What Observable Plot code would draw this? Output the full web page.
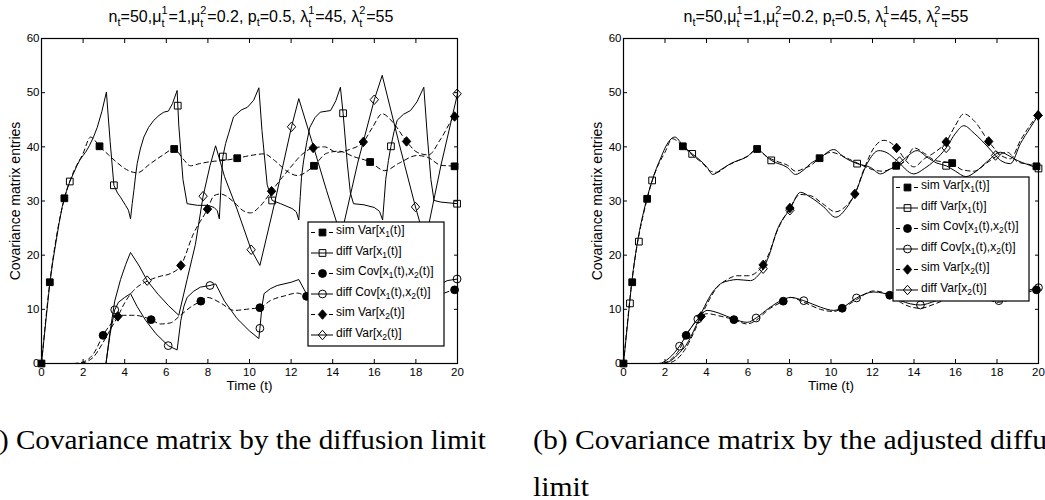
<!DOCTYPE html>
<html><head><meta charset="utf-8">
<script src="https://cdn.jsdelivr.net/npm/d3@7"></script>
<script src="https://cdn.jsdelivr.net/npm/@observablehq/plot@0.6"></script>
<style>
html,body{margin:0;padding:0;background:#fff;overflow:hidden;}
#page{position:relative;width:1045px;height:500px;overflow:hidden;font-family:"Liberation Sans",Arial,sans-serif;color:#000;}
.t{position:absolute;top:6px;font-size:16px;white-space:nowrap;transform:translateX(-50%);line-height:18px;}
.sb{font-size:11px;vertical-align:-4px;}
.ss{display:inline-block;position:relative;width:7px;height:16px;}
.ss .u{position:absolute;left:0;top:-1px;font-size:11px;line-height:11px;}
.ss .d{position:absolute;left:0;top:12px;font-size:11px;line-height:11px;}
.cap{position:absolute;font-family:"Liberation Serif","Times New Roman",serif;font-size:27px;white-space:nowrap;line-height:27px;}
svg{display:block;}
</style></head><body><div id="page"></div>
<script>
// ---------- shared ticks / labels ----------
const xTicks = [0, 2, 4, 6, 8, 10, 12, 14, 16, 18, 20];
const yTicks = [0, 10, 20, 30, 40, 50, 60];
const legendLabels = ["sim Var[x_1(t)]", "diff Var[x_1(t)]", "sim Cov[x_1(t),x_2(t)]",
                      "diff Cov[x_1(t),x_2(t)]", "sim Var[x_2(t)]", "diff Var[x_2(t)]"];
const xLabel = "Time (t)";
const yLabel = "Covariance matrix entries";
const captionA = "(a) Covariance matrix by the diffusion limit";
const captionB1 = "(b) Covariance matrix by the adjusted diffusion";
const captionB2 = "limit";

// ---------- panel (a): diffusion limit  [t, value] ----------
const aSimVar1 = [[0,0],[0.4,15],[0.7,23],[1.1,30.5],[1.5,35],[2.0,38.8],[2.36,41.8],[2.79,40.1],[3.2,38.6],[3.6,37.2],[4.0,36],[4.6,35.2],[5.2,36.8],[5.8,38.4],[6.38,39.6],[6.8,37.8],[7.16,36.5],[7.6,36.9],[8.2,37.3],[8.8,37.5],[9.41,37.9],[10.05,38.4],[10.7,38.7],[11.2,37.5],[11.8,35.5],[12.3,34.7],[13.1,36.5],[13.7,38.8],[14.3,39.2],[15.0,38.2],[15.8,37.2],[16.5,35.6],[17.2,37],[18.06,38.4],[18.6,38],[19.2,36.6],[19.86,36.4],[20,36.3]];
const aDiffVar1 = [[0,0],[0.2,7.5],[0.4,14.8],[0.55,19],[0.7,22.5],[0.85,26],[1.0,29],[1.2,31.8],[1.36,33.6],[1.55,35.2],[1.7,36.5],[1.85,37.6],[2.0,38.4],[2.15,39.2],[2.3,40.2],[2.5,41.8],[2.68,43.6],[2.9,46.5],[3.12,50.1],[3.3,41],[3.48,32.9],[3.65,31.5],[3.8,30.7],[4.04,29.2],[4.18,28.3],[4.28,26.7],[4.36,29.5],[4.44,31.9],[4.52,34.6],[4.6,36.9],[4.75,39.6],[4.92,41.8],[5.15,43.6],[5.4,44.9],[5.65,45.8],[5.88,46.4],[6.1,46.6],[6.3,48],[6.52,50.4],[6.6,44],[6.8,34],[7.0,29.5],[7.5,29.2],[8.0,29.2],[8.3,28.8],[8.45,28.2],[8.55,26.7],[8.63,33],[8.72,38.2],[8.85,40.6],[9.0,42.5],[9.23,45.5],[9.6,46.8],[9.9,47.3],[10.2,48.6],[10.45,50.9],[10.6,43],[10.85,33],[11.09,30.1],[11.5,29.5],[12.05,28.6],[12.25,28],[12.37,26.5],[12.44,30.8],[12.5,34.4],[12.6,37.4],[12.75,40.8],[12.9,43.6],[13.15,45.4],[13.4,46.4],[13.9,46.7],[14.15,48.5],[14.37,51.0],[14.5,46.2],[14.7,37],[14.85,31.5],[15.0,29.5],[15.5,29.3],[16.0,28.8],[16.25,28.1],[16.4,26.5],[16.48,30.5],[16.55,34],[16.68,37.5],[16.8,40.1],[16.95,42.8],[17.1,44.9],[17.4,46],[17.74,46.7],[18.05,48.3],[18.38,51.0],[18.55,42],[18.72,34],[18.87,30.1],[19.2,29.8],[20,29.5]];
const aSimCov = [[0,0],[1.5,0],[2.0,0.3],[2.5,1.8],[2.96,5.2],[3.4,7.6],[3.8,8.9],[4.44,8.9],[5.27,8.1],[5.72,7.3],[6.2,7.5],[6.68,8.9],[7.2,10.5],[7.66,11.5],[7.97,12.2],[8.6,11.2],[9.25,9.8],[10.05,10.1],[10.5,10.3],[11.0,11.6],[11.7,12.5],[12.3,13.0],[12.74,12.4],[13.5,12],[14.5,11.5],[15.5,12.5],[16.5,13.5],[17.5,12.5],[18.5,12],[19.2,12.8],[19.86,13.6],[20,13.7]];
const aDiffCov = [[0,0],[3.1,0],[3.3,5.5],[3.52,9.9],[3.7,11.3],[4.0,12.2],[4.28,12.9],[4.6,10.5],[5.0,8],[5.5,5.5],[6.09,3.3],[6.52,2.5],[6.7,8],[6.85,10.6],[7.0,12.2],[7.3,13.3],[7.64,14.1],[8.1,14.4],[8.37,14.7],[8.8,11.5],[9.4,8.3],[10.0,6],[10.45,4.6],[10.5,6.5],[10.6,10.5],[10.7,12.9],[11.0,13.8],[11.33,14.4],[12.0,15.0],[12.37,15.5],[13.0,11],[14.4,5],[14.6,12],[16.38,15.5],[17.0,11],[18.4,5],[18.6,12],[19.0,14.2],[19.5,15.3],[20,15.6]];
const aSimVar2 = [[0,0],[1.8,0],[2.2,0.4],[2.5,1.2],[2.9,3.5],[3.3,6.2],[3.67,8.7],[4.0,11.2],[4.43,13.5],[5.08,15.2],[5.7,16.1],[6.2,16.6],[6.7,18.1],[7.3,23.9],[7.98,28.5],[8.3,31],[8.6,31.3],[9.25,29.8],[9.7,28.2],[10.05,27.8],[10.5,29],[11.06,31.8],[11.5,34],[11.97,36.2],[12.5,38.5],[13.06,39.8],[13.6,40],[14.2,39],[14.8,39.5],[15.47,40.9],[15.9,43.5],[16.38,46.1],[16.9,44.5],[17.55,41.0],[18.06,39.0],[18.6,38.5],[19.2,41.5],[19.86,45.6],[20,46]];
const aDiffVar2 = [[0,0],[3.1,0],[3.3,6],[3.52,11.5],[3.8,15.5],[4.05,18.3],[4.28,20.5],[4.7,18],[5.08,15.3],[5.6,12.8],[6.1,10.7],[6.6,8.9],[7.0,15.5],[7.4,22],[7.77,30.9],[8.1,36.5],[8.37,40.2],[8.8,34.5],[9.4,28.5],[10.08,21.0],[10.5,18.1],[11.2,29.5],[12.02,43.7],[12.37,48.9],[13.0,41],[13.7,32],[14.4,23.5],[15.2,37],[16.0,48.7],[16.38,53.2],[17.2,40.5],[17.98,28.9],[18.45,22.5],[19.2,36.5],[20,49.8]];
// marker positions (a)
const aSimVar1Pts = [[0,0],[0.4,15],[1.1,30.5],[2.79,40.1],[6.38,39.6],[9.41,37.9],[13.1,36.5],[15.8,37.2],[19.86,36.4]];
const aDiffVar1Pts = [[1.36,33.6],[3.48,32.9],[6.55,47.6],[8.72,38.2],[11.09,30.1],[14.5,46.2],[16.8,40.1],[19.98,29.5]];
const aSimCovPts = [[2.96,5.2],[5.27,8.1],[7.66,11.5],[10.5,10.3],[12.74,12.4],[19.86,13.6]];
const aDiffCovPts = [[3.52,9.9],[6.09,3.3],[8.1,14.4],[10.5,6.5],[19.98,15.6]];
const aSimVar2Pts = [[3.67,8.7],[6.7,18.1],[7.98,28.5],[11.06,31.8],[13.06,39.8],[15.47,40.9],[17.55,41.0],[19.86,45.6]];
const aDiffVar2Pts = [[5.08,15.3],[7.77,30.9],[10.08,21.0],[12.02,43.7],[16.0,48.7],[17.98,28.9],[19.98,49.8]];

// ---------- panel (b): adjusted diffusion limit ----------
const bSimVar1 = [[0,0],[0.4,15],[1.14,30.4],[1.6,36],[2.0,39],[2.35,41.5],[2.86,40.1],[3.3,38.5],[3.8,37],[4.2,35.5],[4.5,35.3],[5.0,36.5],[5.6,37.6],[6.0,38.3],[6.44,39.6],[6.9,38.2],[7.4,37.3],[7.9,36.6],[8.3,35.5],[8.7,36],[9.0,36.5],[9.45,37.9],[10.0,39],[10.5,38.4],[11.0,37.5],[11.5,36.6],[12.0,35.8],[12.5,35.5],[13.14,36.5],[13.6,37.5],[14.0,39.8],[14.5,38.8],[15.0,37.5],[15.84,37.0],[16.3,35.8],[16.9,35.5],[17.5,37],[18.0,38.3],[18.5,39],[19.0,37.2],[19.5,36.8],[19.9,36.4],[20,36.3]];
const bDiffVar1 = [[0,0],[0.2,7.5],[0.4,15],[0.7,23],[1.0,28.5],[1.38,33.8],[1.8,38],[2.1,40.5],[2.47,41.8],[2.86,40.3],[3.31,38.7],[3.7,37.5],[4.03,36.2],[4.3,34.9],[4.7,35.8],[5.16,36.9],[5.96,38.2],[6.44,39.6],[6.8,38.5],[7.12,37.5],[7.89,36.2],[8.29,34.9],[8.7,35.8],[9.01,36.9],[9.45,37.9],[10.13,39.5],[10.62,38.1],[11.26,36.9],[11.9,36.2],[12.39,35.0],[12.8,35.8],[13.14,36.5],[13.6,38],[14.15,39.3],[14.63,38.1],[15.1,37],[15.55,36.5],[16.0,35.5],[16.5,34.5],[17.0,35.5],[17.5,37.2],[18.17,39.0],[18.6,38.3],[18.97,37.5],[19.5,36.7],[20,36.0]];
const bSimCov = [[0,0],[1.8,0],[2.3,0.8],[2.7,2.6],[3.02,5.2],[3.5,7.8],[4.03,9.2],[4.6,8.8],[5.32,8.1],[5.96,7.3],[6.4,8],[7.0,10],[7.7,11.5],[8.05,12.2],[8.7,11.3],[9.49,10.0],[10.13,9.6],[10.54,10.2],[11.23,11.8],[12.06,13.4],[12.83,12.6],[13.35,11.3],[13.8,10.5],[14.31,10.2],[15.0,11],[16.0,12.5],[17.0,13],[18.0,11.3],[18.8,12],[19.5,13.2],[19.9,13.6],[20,13.7]];
const bDiffCov = [[0,0],[1.7,0],[2.2,1],[2.7,3.2],[3.2,6.3],[3.58,8.2],[4.03,9.8],[4.6,9.3],[5.32,8.2],[5.96,7.6],[6.39,8.4],[7.0,10.2],[7.7,11.8],[8.05,12.2],[8.69,11.6],[9.49,10.4],[10.13,9.8],[10.54,10.3],[11.23,12.1],[12.06,13.2],[12.5,13.0],[12.83,12.6],[13.35,11.6],[14.31,10.8],[15.0,11.5],[16.0,13],[16.8,13.2],[17.5,12.5],[18.09,11.6],[18.8,12.3],[19.5,13.5],[20,14.0]];
const bSimVar2 = [[0,0],[2.0,0],[2.5,0.6],[3.0,2.8],[3.4,5.8],[3.74,8.7],[4.03,11.0],[4.5,14],[5.0,15.5],[5.48,16.2],[6.0,16.2],[6.4,16.8],[6.73,18.2],[7.0,20.2],[7.4,24.4],[8.02,28.7],[8.5,31.2],[9.0,31],[9.6,29.5],[10.22,28],[10.7,29],[11.15,31.3],[11.6,36],[12.1,40],[12.55,41.2],[13.16,39.8],[13.6,37.5],[13.99,36.3],[14.5,37.8],[15.0,39],[15.55,40.9],[16.0,44],[16.4,46.1],[16.9,44.8],[17.6,41.0],[18.17,38.5],[18.65,37.8],[19.13,41.2],[19.6,44],[19.98,46]];
const bDiffVar2 = [[0,0],[1.8,0],[2.27,0.5],[2.7,2],[3.0,3.3],[3.5,7],[3.9,10.5],[4.3,13.2],[4.67,14.7],[5.1,15.3],[5.48,15.5],[6.12,15.3],[6.5,16.3],[6.73,17.5],[7.0,19.8],[7.4,24.6],[8.02,28.5],[8.53,31.6],[9.01,30.7],[9.65,28.9],[10.22,27.0],[10.78,28.9],[11.15,31.3],[11.74,36.9],[12.3,39.3],[12.7,38.9],[13.16,37.5],[13.99,35.0],[14.5,36],[15.0,37.5],[15.55,39.8],[16.0,42.5],[16.4,43.9],[16.9,42.5],[17.6,39.8],[17.93,38.4],[18.17,37.5],[18.65,36.9],[19.13,40.6],[19.6,43.5],[19.98,45.8]];
// marker positions (b)
const bSimVar1Pts = [[0,0],[0.42,15],[1.14,30.4],[2.86,40.1],[6.44,39.6],[9.45,37.9],[13.14,36.5],[15.84,37.0],[19.9,36.4]];
const bDiffVar1Pts = [[0.31,11.1],[0.74,22.5],[1.38,33.8],[3.31,38.7],[7.12,37.5],[11.26,36.9],[15.55,36.5],[20,36.0]];
const bSimCovPts = [[3.02,5.2],[5.32,8.1],[7.7,11.5],[10.54,10.2],[12.83,12.6],[19.9,13.6]];
const bDiffCovPts = [[2.7,3.2],[3.58,8.2],[6.39,8.4],[8.69,11.6],[11.23,12.1],[14.31,10.8],[18.09,11.6],[20,14.0]];
const bSimVar2Pts = [[3.74,8.7],[6.73,18.2],[8.02,28.7],[11.15,31.3],[13.16,39.8],[15.55,40.9],[17.6,41.0],[19.98,45.8]];
const bDiffVar2Pts = [[6.73,17.5],[8.02,28.3],[13.3,37.3],[15.55,39.8],[17.93,38.4],[19.98,45.8]];

// ---------- styling helpers ----------
const diamond = {draw(ctx, size) {
  const r = Math.sqrt(size / Math.PI), w = r * 1.1, h = r * 1.25;
  ctx.moveTo(0, -h); ctx.lineTo(w, 0); ctx.lineTo(0, h); ctx.lineTo(-w, 0); ctx.closePath();
}};
const symbols = ["square", "square", "circle", "circle", diamond, diamond];
const radii = [3.8, 3.8, 3.9, 3.9, 3.8, 3.8];
const dash = "4.5,3.5";
const font = "Liberation Sans, Arial, sans-serif";

function makePanel(lines, pts, left, width, ml, mr, sawtooth) {
  const marks = [];
  lines.forEach((data, i) => {
    const isSim = i % 2 === 0;
    marks.push(Plot.line(data, {x: d => d[0], y: d => d[1], stroke: "#000", strokeWidth: 1,
      strokeDasharray: isSim ? dash : undefined,
      curve: (!isSim && sawtooth) ? "linear" : "monotone-x"}));
  });
  pts.forEach((data, i) => {
    const isSim = i % 2 === 0;
    marks.push(Plot.dot(data, {x: d => d[0], y: d => d[1], symbol: symbols[i], r: radii[i],
      fill: isSim ? "#000" : "none", stroke: "#000", strokeWidth: 1}));
  });
  marks.push(
    Plot.frame({stroke: "#000", strokeWidth: 1.2}),
    Plot.axisX({anchor: "bottom", ticks: xTicks, tickSize: 0, tickPadding: 4, label: null, fontSize: 11.5}),
    Plot.axisX({anchor: "bottom", ticks: xTicks, tickSize: -4, tickFormat: () => "", label: null}),
    Plot.axisX({anchor: "top", ticks: xTicks, tickSize: -4, tickFormat: () => "", label: null}),
    Plot.axisY({anchor: "left", ticks: yTicks, tickSize: 0, tickPadding: 2, label: null, fontSize: 11.5}),
    Plot.axisY({anchor: "left", ticks: yTicks, tickSize: -4, tickFormat: () => "", label: null}),
    Plot.axisY({anchor: "right", ticks: yTicks, tickSize: -4, tickFormat: () => "", label: null}),
    Plot.text([xLabel], {frameAnchor: "bottom", dy: 26, fontSize: 13.5, fill: "#000"}),
    Plot.text([yLabel], {frameAnchor: "left", textAnchor: "middle", rotate: -90, dx: -26, fontSize: 14, fill: "#000"})
  );
  const chart = Plot.plot({
    width, height: 400, marginLeft: ml, marginRight: mr, marginTop: 38, marginBottom: 37,
    x: {domain: [0, 20]}, y: {domain: [0, 60]},
    style: {fontFamily: font, color: "#000", background: "transparent", overflow: "visible"},
    marks
  });
  chart.style.position = "absolute";
  chart.style.left = left + "px";
  chart.style.top = "0px";
  document.getElementById("page").appendChild(chart);
}

function addTitle(cx) {
  const ss = (u, d) => `<span class="ss"><span class="u">${u}</span><span class="d">${d}</span></span>`;
  const sb = s => `<span class="sb">${s}</span>`;
  const div = document.createElement("div");
  div.className = "t";
  div.style.left = cx + "px";
  div.innerHTML = `n${sb("t")}=50,μ${ss("1","t")}=1,μ${ss("2","t")}=0.2, p${sb("t")}=0.5, λ${ss("1","t")}=45, λ${ss("2","t")}=55`;
  document.getElementById("page").appendChild(div);
}

function addLegend(left, top) {
  const W = 136, H = 124;
  const svg = d3.select("#page").append("svg").attr("width", W + 2).attr("height", H + 2)
    .style("position", "absolute").style("left", (left - 1) + "px").style("top", (top - 1) + "px");
  svg.append("rect").attr("x", 1).attr("y", 1).attr("width", W).attr("height", H)
    .attr("fill", "#fff").attr("stroke", "#000").attr("stroke-width", 1.2);
  legendLabels.forEach((lab, i) => {
    const y = 1 + 10.5 + 20.5 * i;
    const isSim = i % 2 === 0;
    if (isSim) {
      svg.append("line").attr("x1", 4).attr("x2", 8).attr("y1", y).attr("y2", y).attr("stroke", "#000");
      svg.append("line").attr("x1", 22).attr("x2", 26).attr("y1", y).attr("y2", y).attr("stroke", "#000");
    } else {
      svg.append("line").attr("x1", 4).attr("x2", 26).attr("y1", y).attr("y2", y).attr("stroke", "#000");
    }
    const sym = typeof symbols[i] === "string" ? (symbols[i] === "square" ? d3.symbolSquare : d3.symbolCircle) : symbols[i];
    svg.append("path").attr("d", d3.symbol(sym, radii[i] * radii[i] * Math.PI)())
      .attr("transform", `translate(15.5,${y})`).attr("fill", isSim ? "#000" : "none").attr("stroke", "#000");
    const t = svg.append("text").attr("x", 29).attr("y", y + 1.5).attr("font-size", 12)
      .attr("font-family", font).attr("fill", "#000");
    const parts = lab.split(/_(.)/);
    parts.forEach((p, k) => {
      if (k % 2 === 1) {
        t.append("tspan").attr("font-size", 8.5).attr("dy", 3).text(p);
      } else if (p) {
        t.append("tspan").attr("dy", k > 0 ? -3 : 0).text(p);
      }
    });
  });
}

function addCaption(text, x, y, alignRight, sx) {
  const div = document.createElement("div");
  div.className = "cap";
  div.textContent = text;
  div.style.top = y + "px";
  if (alignRight) {
    div.style.right = (1045 - x) + "px";
    div.style.transformOrigin = "right center";
  } else {
    div.style.left = x + "px";
    div.style.transformOrigin = "left center";
  }
  div.style.transform = `scaleX(${sx})`;
  document.getElementById("page").appendChild(div);
}

makePanel([aSimVar1, aDiffVar1, aSimCov, aDiffCov, aSimVar2, aDiffVar2],
          [aSimVar1Pts, aDiffVar1Pts, aSimCovPts, aDiffCovPts, aSimVar2Pts, aDiffVar2Pts],
          0, 522, 41, 65, true);
makePanel([bSimVar1, bDiffVar1, bSimCov, bDiffCov, bSimVar2, bDiffVar2],
          [bSimVar1Pts, bDiffVar1Pts, bSimCovPts, bDiffCovPts, bSimVar2Pts, bDiffVar2Pts],
          522, 523, 101, 7, false);
addTitle(251);
addTitle(826);
addLegend(308, 222);
addLegend(893, 177);
addCaption(captionA, 486, 427, true, 1.08);
addCaption(captionB1, 533, 427, false, 1.1);
addCaption(captionB2, 533, 474, false, 1.1);
</script></body></html>
